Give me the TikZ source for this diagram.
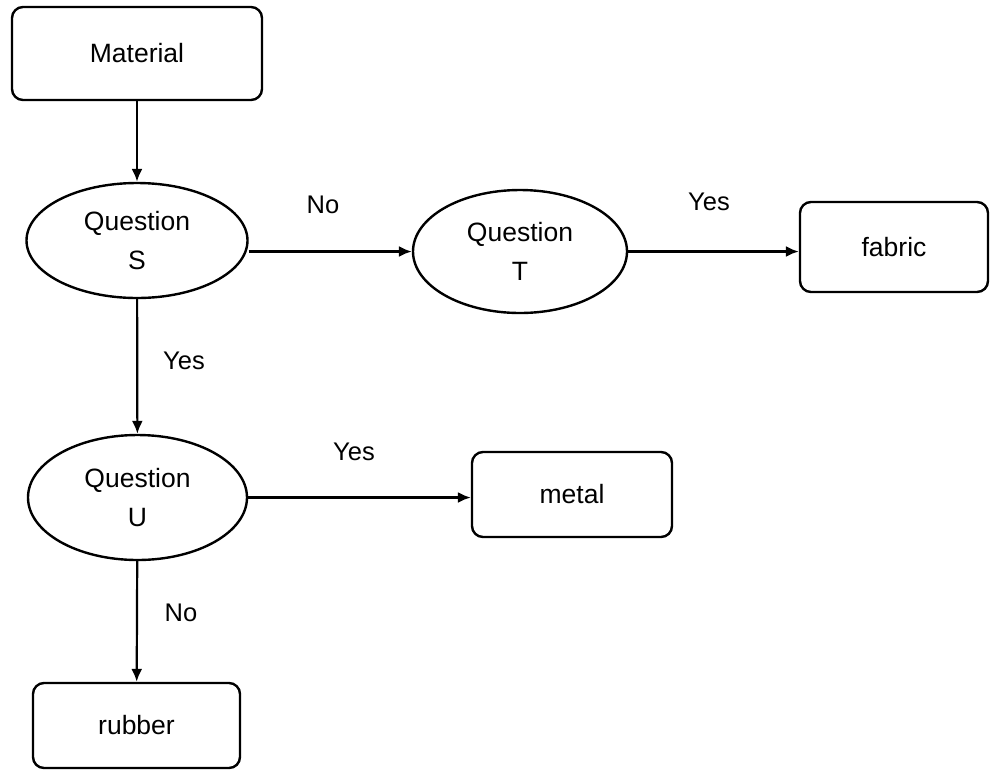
\documentclass[tikz,border=0pt]{standalone}
\usepackage{fontspec}
\setmainfont{Liberation Sans}
\usetikzlibrary{shapes.geometric,arrows.meta}
\begin{document}
\begin{tikzpicture}[x=1pt,y=-1pt,
  box/.style={draw,line width=2.4pt,rounded corners=11pt,inner sep=0pt,font=\fontsize{26.5}{38}\selectfont},
  oval/.style={draw,ellipse,line width=2.4pt,inner sep=0pt,align=center,font=\fontsize{26.5}{39}\selectfont},
  arr/.style={line width=2.2pt,-{Latex[length=13pt,width=11pt]}},
  lbl/.style={inner sep=0pt,font=\fontsize{25.5}{30}\selectfont}]
\useasboundingbox (0,0) rectangle (990,772);
\node[box,minimum width=250pt,minimum height=93pt] (mat) at (137,53.5) {Material};
\node[oval,minimum width=221pt,minimum height=115pt] (S) at (137,240.5) {Question\\S};
\node[oval,minimum width=214pt,minimum height=123pt] (T) at (520,251.5) {Question\\T};
\node[box,minimum width=188pt,minimum height=90pt] (fab) at (894,247) {fabric};
\node[oval,minimum width=219pt,minimum height=125pt] (U) at (137.5,497.5) {Question\\U};
\node[box,minimum width=200pt,minimum height=85pt] (met) at (572,494.5) {metal};
\node[box,minimum width=207pt,minimum height=85pt] (rub) at (136.5,725.5) {rubber};
\draw[arr] (mat) -- (S);
\draw[arr] (S.east |- T.west) -- (T.west);
\draw[arr] (T.east) -- (T.east -| fab.west);
\draw[arr] (S) -- (U);
\draw[arr] (U.east) -- (U.east -| met.west);
\draw[arr] (U) -- (rub);
\node[lbl] (l1) at (323,205) {No};
\node[lbl] (l2) at (709,202) {Yes};
\node[lbl] (l3) at (184,361) {Yes};
\node[lbl] (l4) at (354,452) {Yes};
\node[lbl] (l5) at (181,613) {No};
\end{tikzpicture}
\end{document}
